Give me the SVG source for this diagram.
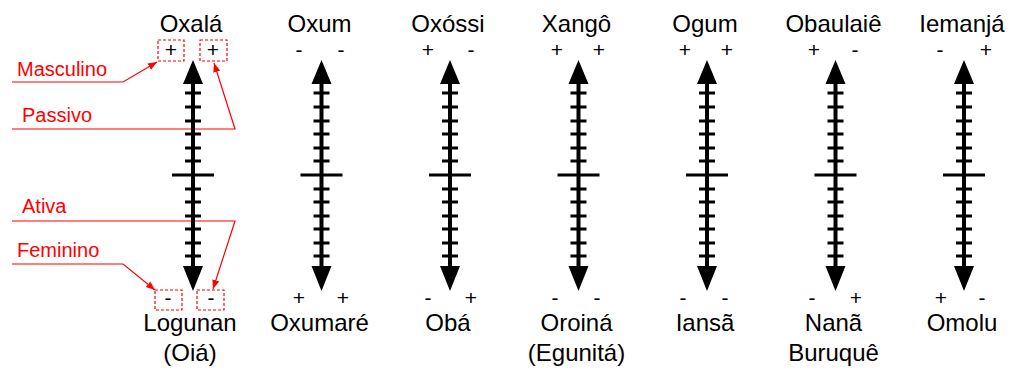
<svg xmlns="http://www.w3.org/2000/svg" xmlns:xlink="http://www.w3.org/1999/xlink" width="1024" height="384" viewBox="0 0 1024 384">
<style>
.name{font-family:"Liberation Sans",Arial,sans-serif;font-size:24px;fill:#000;text-anchor:middle}
.sign{font-family:"Liberation Sans",Arial,sans-serif;font-size:21px;fill:#000;text-anchor:middle}
.lbl{font-family:"Liberation Sans",Arial,sans-serif;font-size:20px;fill:#ff0000}
.rline{fill:none;stroke:#ff0000;stroke-width:1.2}
.box{fill:none;stroke:#ff0000;stroke-width:1.2;stroke-dasharray:3 2}
.shaft{stroke:#000;stroke-width:4}
.tick{stroke:#000;stroke-width:3}
</style>
<defs>
<g id="axis">
<line class="shaft" x1="0" y1="80" x2="0" y2="270"/>
<polygon points="0,60 -10,84 10,84" fill="#000"/>
<polygon points="0,291 -10,266 10,266" fill="#000"/>
<path class="tick" d="M-8,93H8M-8,107H8M-8,121H8M-8,134H8M-8,148H8M-8,161H8M-8,189H8M-8,202H8M-8,216H8M-8,229H8M-8,243H8M-8,256H8"/>
<line class="tick" x1="-21" y1="175" x2="21" y2="175" stroke-width="3.5"/>
</g>
<marker id="rarrow" viewBox="0 0 10 10" refX="10" refY="5" markerWidth="9" markerHeight="9" markerUnits="userSpaceOnUse" orient="auto">
<path d="M0,1 L10,5 L0,9 Z" fill="#ff0000"/>
</marker>
</defs>

<g id="connectors">
<polyline class="rline" points="12,82 123,82 157,62" marker-end="url(#rarrow)"/>
<polyline class="rline" points="12,129 235,129 214,63" marker-end="url(#rarrow)"/>
<polyline class="rline" points="12,221 235,221 213,289" marker-end="url(#rarrow)"/>
<polyline class="rline" points="12,264 123,264 155,290" marker-end="url(#rarrow)"/>
</g>

<g id="labels">
<text class="lbl" x="17" y="76">Masculino</text>
<text class="lbl" x="22" y="122">Passivo</text>
<text class="lbl" x="22" y="213">Ativa</text>
<text class="lbl" x="17" y="257">Feminino</text>
</g>

<g id="oxala">
<use xlink:href="#axis" x="193"/>
<text class="name" x="191" y="32">Oxalá</text>
<rect class="box" x="158" y="40" width="26" height="21"/>
<rect class="box" x="200" y="40" width="27" height="21"/>
<text class="sign" x="171" y="57">+</text>
<text class="sign" x="213" y="57">+</text>
<rect class="box" x="155" y="290" width="27" height="20"/>
<rect class="box" x="197" y="290" width="27" height="20"/>
<text class="sign" x="168" y="305">-</text>
<text class="sign" x="211" y="305">-</text>
<text class="name" x="190" y="331">Logunan</text>
<text class="name" x="190" y="361">(Oiá)</text>
</g>

<g id="oxum">
<use xlink:href="#axis" x="321.5"/>
<text class="name" x="319.5" y="32">Oxum</text>
<text class="sign" x="299" y="57">-</text>
<text class="sign" x="341" y="57">-</text>
<text class="sign" x="299" y="305">+</text>
<text class="sign" x="343" y="305">+</text>
<text class="name" x="319.5" y="331">Oxumaré</text>
</g>

<g id="oxossi">
<use xlink:href="#axis" x="450"/>
<text class="name" x="448" y="32">Oxóssi</text>
<text class="sign" x="428" y="57">+</text>
<text class="sign" x="471" y="57">-</text>
<text class="sign" x="428" y="305">-</text>
<text class="sign" x="471" y="305">+</text>
<text class="name" x="448" y="331">Obá</text>
</g>

<g id="xango">
<use xlink:href="#axis" x="578.5"/>
<text class="name" x="576.5" y="32">Xangô</text>
<text class="sign" x="557" y="57">+</text>
<text class="sign" x="599" y="57">+</text>
<text class="sign" x="555" y="305">-</text>
<text class="sign" x="597" y="305">-</text>
<text class="name" x="576.5" y="331">Oroiná</text>
<text class="name" x="576.5" y="361">(Egunitá)</text>
</g>

<g id="ogum">
<use xlink:href="#axis" x="707"/>
<text class="name" x="705" y="32">Ogum</text>
<text class="sign" x="685" y="57">+</text>
<text class="sign" x="727" y="57">+</text>
<text class="sign" x="683" y="305">-</text>
<text class="sign" x="725" y="305">-</text>
<text class="name" x="705" y="331">Iansã</text>
</g>

<g id="obaulaie">
<use xlink:href="#axis" x="835.5"/>
<text class="name" x="833.5" y="32">Obaulaiê</text>
<text class="sign" x="814" y="57">+</text>
<text class="sign" x="855" y="57">-</text>
<text class="sign" x="812" y="305">-</text>
<text class="sign" x="856" y="305">+</text>
<text class="name" x="833.5" y="331">Nanã</text>
<text class="name" x="833.5" y="361">Buruquê</text>
</g>

<g id="iemanja">
<use xlink:href="#axis" x="964"/>
<text class="name" x="962" y="32">Iemanjá</text>
<text class="sign" x="940" y="57">-</text>
<text class="sign" x="986" y="57">+</text>
<text class="sign" x="941" y="305">+</text>
<text class="sign" x="982" y="305">-</text>
<text class="name" x="962" y="331">Omolu</text>
</g>
</svg>
